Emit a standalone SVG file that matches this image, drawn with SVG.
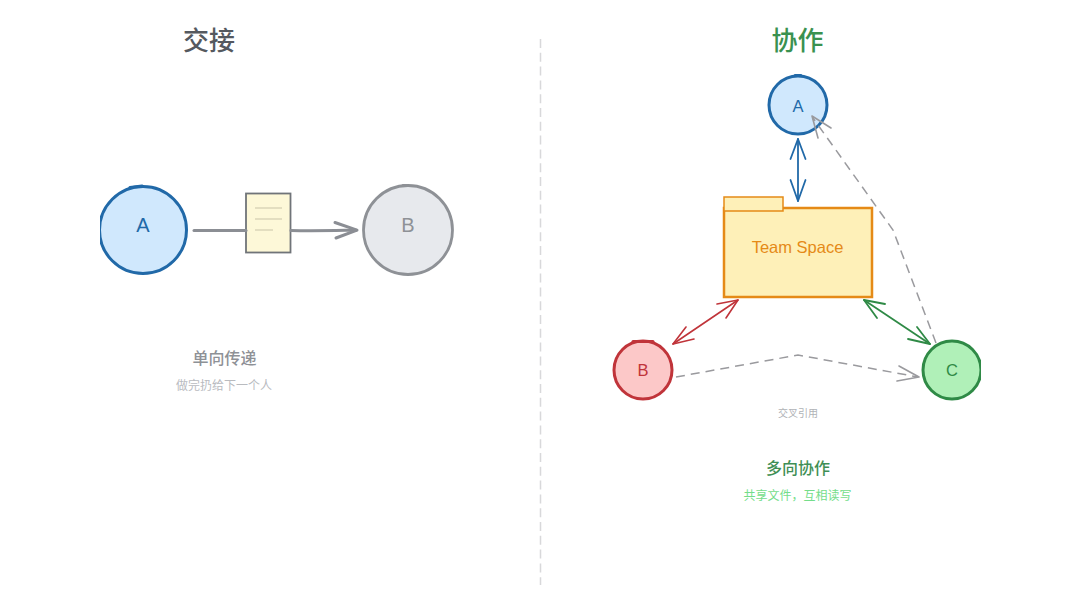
<svg xmlns="http://www.w3.org/2000/svg" width="1080" height="608" viewBox="0 0 1080 608">
<defs>
<style>
text{font-family:"Liberation Sans","Noto Sans CJK SC",sans-serif;text-anchor:middle}
.cjk{font-family:"Noto Sans CJK SC","Liberation Sans",sans-serif}
.dash{fill:none;stroke:#9a9a9e;stroke-width:1.500;stroke-dasharray:9 6}
.line{fill:none;stroke-linecap:round;stroke-linejoin:round}
.tick{fill:none;stroke-width:3;stroke-linecap:round}
</style>
<clipPath id="clip-left"><rect x="100" y="170" width="100" height="120"/></clipPath>
<clipPath id="clip-c"><rect x="910" y="330" width="71" height="80"/></clipPath>
</defs>
<rect width="1080" height="608" fill="#fff"/>
<path d="M540.500 39V585" stroke="#d8d8da" stroke-width="1.500" stroke-dasharray="9 4.800" fill="none"/>
<text class="cjk" x="209" y="50" font-size="26" font-weight="500" fill="#55595f">交接</text>
<text class="cjk" x="797.500" y="50" font-size="26" font-weight="500" fill="#3a9150">协作</text>
<g id="doc">
<rect x="246" y="193.500" width="44.500" height="59" fill="#fdf8d8" stroke="#707479" stroke-width="1.800"/>
<path d="M255 208H282M255 219H282M255 230H273" stroke="#c9c4a8" stroke-width="1" fill="none"/>
</g>
<g id="left-a">
<circle cx="143" cy="230" r="43.500" fill="#d0e8fd" stroke="#2169a8" stroke-width="3" clip-path="url(#clip-left)"/>
<path class="tick" stroke="#2169a8" d="M130 187.500L142 186"/>
<text x="143" y="232" font-size="20" fill="#2169a8">A</text>
</g>
<g id="left-b">
<circle cx="408" cy="230" r="44.500" fill="#e7e9ed" stroke="#8e9196" stroke-width="2.800"/>
<path class="tick" stroke="#8e9196" d="M403 185.500H408"/>
<text x="408" y="232" font-size="20" fill="#8e9196">B</text>
</g>
<g id="team-space">
<path d="M724 208H872V297H724Z" fill="#fef0b8" stroke="#e58a17" stroke-width="2.500"/>
<rect x="724" y="197" width="59" height="14" fill="#fef0b8" stroke="#e58a17" stroke-width="1.500"/>
<text x="797.500" y="252.500" font-size="16.500" fill="#e58a17">Team Space</text>
</g>
<g id="right-a">
<circle cx="798" cy="105" r="29" fill="#d0e8fd" stroke="#2169a8" stroke-width="3"/>
<path class="tick" stroke="#2169a8" d="M795 75.500H801"/>
<text x="798" y="112" font-size="16.500" fill="#2169a8">A</text>
</g>
<g id="right-b">
<circle cx="643" cy="370" r="29" fill="#fcc8c8" stroke="#c0343a" stroke-width="3"/>
<path class="tick" stroke="#c0343a" d="M633 341.500H653"/>
<text x="643" y="376" font-size="16.500" fill="#c0343a">B</text>
</g>
<g id="right-c">
<circle cx="952" cy="370" r="29" fill="#b0f0b8" stroke="#2f8a46" stroke-width="3" clip-path="url(#clip-c)"/>
<text x="952" y="376" font-size="16.500" fill="#2f8a46">C</text>
</g>
<g id="connectors">
<g class="line" stroke="#8b8e94" stroke-width="3">
<path d="M194 230.500H246"/><path d="M291 230.500C315 231 335 230.500 356 230.200"/><path d="M335 222.500L357 230.200L336 238"/>
</g>
<g class="line" stroke="#2169a8" stroke-width="1.800">
<path d="M798 139V201"/><path d="M790.500 159L798 139L805.500 159"/><path d="M790.500 180L798 201L805.500 180"/>
</g>
<g class="line" stroke="#c0343a" stroke-width="1.600">
<path d="M673 344L738 300"/><path d="M686 327L673 344L694 339"/><path d="M717 304L738 300L726 318"/>
</g>
<g class="line" stroke="#2f8a46" stroke-width="1.800">
<path d="M864 300L930 344"/><path d="M885 304L864 300L877 318"/><path d="M908 339L930 344L917 327"/>
</g>
<path class="dash" d="M676 377L798 355L918 377"/>
<path class="line" stroke="#9a9a9e" stroke-width="1.600" d="M899 366L919 377L897 381"/>
<path class="dash" d="M936 343L893 230L813 118"/>
<path class="line" stroke="#9a9a9e" stroke-width="1.600" d="M831 128L812 116L818 138"/>
</g>
<text class="cjk" x="224.500" y="364" font-size="16" font-weight="500" fill="#8e9196">单向传递</text>
<text class="cjk" x="224" y="390" font-size="12" fill="#b9bbbf">做完扔给下一个人</text>
<text class="cjk" x="798" y="417" font-size="10" fill="#b0b2b6">交叉引用</text>
<text class="cjk" x="798" y="474" font-size="16" font-weight="500" fill="#3f8f55">多向协作</text>
<text class="cjk" x="797.500" y="500" font-size="12" fill="#74dd8a">共享文件，互相读写</text>
</svg>
